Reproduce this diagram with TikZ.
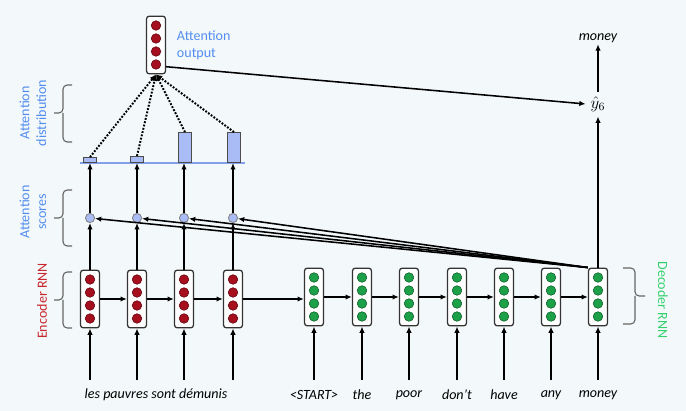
\documentclass[tikz,border=0pt]{standalone}
\usepackage{fontspec}
\setmainfont{Carlito}
\usetikzlibrary{arrows.meta}
\definecolor{bgcol}{RGB}{243,249,250}
\definecolor{encred}{RGB}{165,15,30}
\definecolor{decgreen}{RGB}{28,160,72}
\definecolor{attnblue}{RGB}{84,141,240}
\definecolor{barblue}{RGB}{170,188,245}
\definecolor{linblue}{RGB}{130,160,235}
\definecolor{rnnred}{RGB}{200,38,46}
\definecolor{rnngreen}{RGB}{52,208,110}
\tikzset{
	cellbox/.style={draw=black!80, fill=white, rounded corners=2pt, line width=0.9pt, minimum width=13.5pt, minimum height=41pt, inner sep=0pt},
	reddot/.style={fill=encred, draw=encred!60!black, line width=0.4pt},
	greendot/.style={fill=decgreen, draw=decgreen!60!black, line width=0.4pt},
	scdot/.style={circle, draw=black!50, fill=barblue, minimum size=6.5pt, inner sep=0pt, line width=0.6pt},
	barbox/.style={draw=black!70, fill=barblue, minimum width=9.9pt, inner sep=0pt, line width=0.7pt},
	arr/.style={-{Latex[length=4.5pt,width=3.8pt]}, line width=1.1pt},
	dotline/.style={line width=1.4pt, dash pattern=on 1.3pt off 1.1pt, -{Latex[length=4.5pt,width=4pt]}},
	brace/.style={draw=black!60, line width=0.8pt, rounded corners=3pt},
	word/.style={font=\itshape, inner sep=1pt}
}
\begin{document}
\begin{tikzpicture}[x=0.025cm, y=-0.025cm]
	\fill[bgcol] (0,0) rectangle (686,411);
	\useasboundingbox (0,0) rectangle (686,411);

	\draw[linblue, line width=1.6pt] (80,163) -- (245,163);

	\foreach \i/\x in {1/90,2/137,3/184,4/233} {
		\node[cellbox] (enc\i) at (\x,299) {};
		\foreach \d in {-19.5,-6.5,6.5,19.5}
			\draw[reddot] (\x,299+\d) circle (3.4pt);
		\node[scdot] (sc\i) at (\x,218) {};
		\coordinate (ein\i) at (\x,380);
		\draw[arr] (ein\i) -- (enc\i);
		\draw[arr] (enc\i) -- (sc\i);
	}
	\foreach \i/\x/\h in {1/90/3.5pt,2/137/4.3pt,3/185/21.3pt,4/234/21.3pt} {
		\node[barbox, minimum height=\h, anchor=south] (bar\i) at (\x,163) {};
		\draw[arr] (sc\i) -- (sc\i |- bar\i.south);
	}

	\foreach \i/\x/\w in {1/314/{<START>},2/362/the,3/409/poor,4/457/don’t,5/504/have,6/551/any,7/598/money} {
		\node[cellbox] (dec\i) at (\x,297) {};
		\foreach \d in {-19.5,-6.5,6.5,19.5}
			\draw[greendot] (\x,297+\d) circle (3.4pt);
		\coordinate (din\i) at (\x,380);
		\draw[arr] (din\i) -- (dec\i);
		\node[word] (dw\i) at (\x,395) {\w};
	}
	\node[word] (fr) at (156,395) {les pauvres sont démunis};

	\draw[arr] (enc1) -- (enc2);
	\draw[arr] (enc2) -- (enc3);
	\draw[arr] (enc3) -- (enc4);
	\draw[arr] (enc4.east) -- (dec1.west |- enc4.east);
	\foreach \i [evaluate=\i as \j using int(\i+1)] in {1,...,6}
		\draw[arr] (dec\i) -- (dec\j);

	\foreach \i in {1,...,4}
		\draw[arr] (dec7.north west) -- (sc\i);

	\node[cellbox] (attn) at (156,45) {};
	\foreach \d in {-19.5,-6.5,6.5,19.5}
		\draw[reddot] (156,45+\d) circle (3.4pt);
	\foreach \i in {1,...,4}
		\draw[dotline] (bar\i.north) -- (attn.south);
	\node[attnblue, anchor=west, align=left] (attnlab) at (172,45) {Attention\\output};

	\node[font=\large] (yhat) at (598,104) {$\hat{y}_6$};
	\node[word] (outw) at (598,38) {money};
	\draw[arr] (dec7) -- (yhat);
	\draw[arr] (yhat) -- (outw);
	\draw[arr] (attn.-65) -- (yhat.west);

	\draw[brace] (72,85) -| (63,113) -- (54,113);
	\draw[brace] (72,142) -| (63,113);
	\draw[brace] (72,190) -| (63,218) -- (54,218);
	\draw[brace] (72,246) -| (63,218);
	\draw[brace] (72,272) -| (63,300) -- (54,300);
	\draw[brace] (72,328) -| (63,300);
	\draw[brace] (623,268) -| (635,296) -- (645,296);
	\draw[brace] (623,324) -| (635,296);

	\node[attnblue, rotate=90, align=center] (distlab) at (33,113) {Attention\\distribution};
	\node[attnblue, rotate=90, align=center] (sclab) at (33,212) {Attention\\scores};
	\node[rnnred, rotate=90] (enclab) at (42,301) {Encoder RNN};
	\node[rnngreen, rotate=-90] (declab) at (663,300) {Decoder RNN};
\end{tikzpicture}
\end{document}
